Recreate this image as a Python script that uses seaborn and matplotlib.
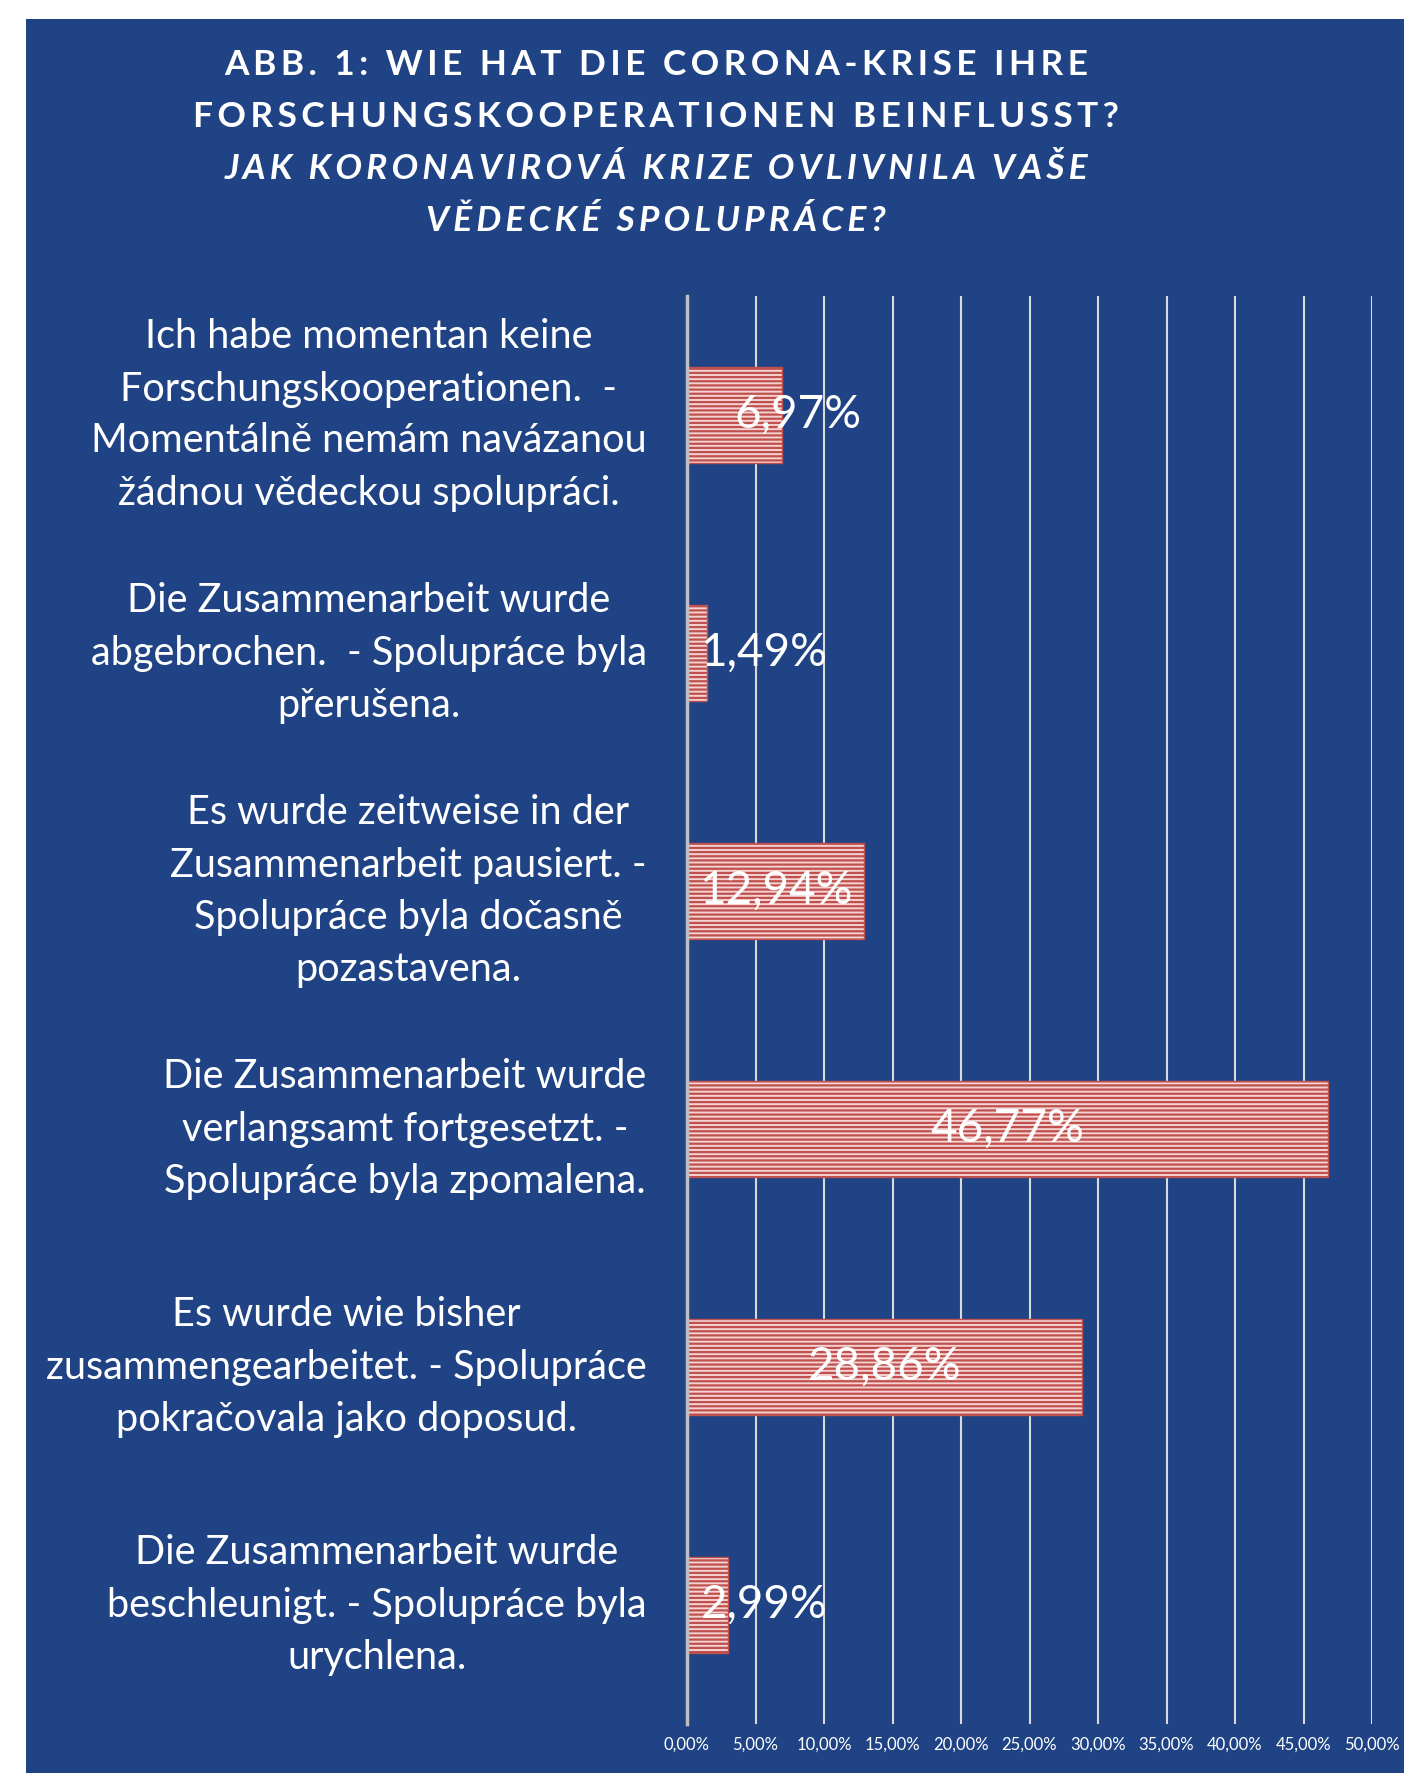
import matplotlib
matplotlib.use('Agg')
import matplotlib.pyplot as plt
import seaborn as sns
import pandas as pd
from matplotlib.patches import Rectangle

# data
categories = [
    "Ich habe momentan keine\nForschungskooperationen.  -\nMomentálně nemám navázanou\nžádnou vědeckou spolupráci.",
    "Die Zusammenarbeit wurde\nabgebrochen.  - Spolupráce byla\npřerušena.",
    "Es wurde zeitweise in der\nZusammenarbeit pausiert. -\nSpolupráce byla dočasně\npozastavena.",
    "Die Zusammenarbeit wurde\nverlangsamt fortgesetzt. -\nSpolupráce byla zpomalena.",
    "Es wurde wie bisher\nzusammengearbeitet. - Spolupráce\npokračovala jako doposud.",
    "Die Zusammenarbeit wurde\nbeschleunigt. - Spolupráce byla\nurychlena.",
]
values = [6.97, 1.49, 12.94, 46.77, 28.86, 2.99]
ticks = list(range(0, 55, 5))
tick_labels = [f"{t},00%" for t in ticks]
title_lines_de = ["ABB. 1: WIE HAT DIE CORONA-KRISE IHRE",
                  "FORSCHUNGSKOOPERATIONEN BEINFLUSST?"]
title_lines_cz = ["JAK KORONAVIROVÁ KRIZE OVLIVNILA VAŠE",
                  "VĚDECKÉ SPOLUPRÁCE?"]

df = pd.DataFrame({'kategorie': categories, 'anteil': values})

sns.set_style('white')
plt.rcParams['font.family'] = ['Lato', 'DejaVu Sans']
plt.rcParams['hatch.linewidth'] = 1.6


def spaced(s):
    # wide letter tracking like the original title
    return '\u2009'.join(s)


BG = '#1F4384'
W, H = 1404, 1773
fig = plt.figure(figsize=(W / 100, H / 100), dpi=100)
fig.patches.append(Rectangle((26 / W, 0), 1, 1 - 19 / H, transform=fig.transFigure,
                             facecolor=BG, edgecolor='none', zorder=-1))

ax = fig.add_axes([687 / W, 49 / H, 685 / W, 1428 / H])
ax.set_facecolor('none')

sns.barplot(data=df, x='anteil', y='kategorie', orient='h', width=0.4,
            color='#F4D3D2', saturation=1, edgecolor='#C0504D', linewidth=1, ax=ax)
for p in ax.patches:
    p.set_hatch('----')

for i, v in enumerate(values):
    xpos = max(v + 1.1, 5.6) if v < 10 else v / 2
    ax.text(xpos, i, f"{v:.2f}".replace('.', ',') + '%', ha='center', va='center',
            color='white', fontsize=33)

ax.set_xlim(0, 50)
ax.set_ylim(5.5, -0.5)
ax.set_xticks(ticks)
ax.set_xticklabels(tick_labels)
ax.set_xlabel('')
ax.set_ylabel('')
ax.xaxis.grid(True, color='#D9D9D9', linewidth=1.5)
ax.set_axisbelow(True)
for s in ['top', 'right', 'bottom']:
    ax.spines[s].set_visible(False)
ax.spines['left'].set_color('#BFBFBF')
ax.spines['left'].set_linewidth(2.5)
ax.spines['left'].set_zorder(3)

ax.tick_params(axis='x', length=0, pad=9, labelsize=12, labelcolor='white')
ax.tick_params(axis='y', length=0, pad=29, labelsize=28.5, labelcolor='white')
for lbl in ax.get_yticklabels():
    lbl.set_multialignment('center')
    lbl.set_linespacing(1.5)
    lbl.set_verticalalignment('center')

for k, line in enumerate(title_lines_de):
    fig.text(656 / W, 1 - (65 + 52 * k) / H, spaced(line), ha='center', va='center',
             color='white', fontsize=25.5, fontweight='bold')
for k, line in enumerate(title_lines_cz):
    fig.text(656 / W, 1 - (169 + 52 * k) / H, spaced(line), ha='center', va='center',
             color='white', fontsize=25.5, fontweight='bold', fontstyle='italic')

fig.savefig('out.png', dpi=100, facecolor='white')
